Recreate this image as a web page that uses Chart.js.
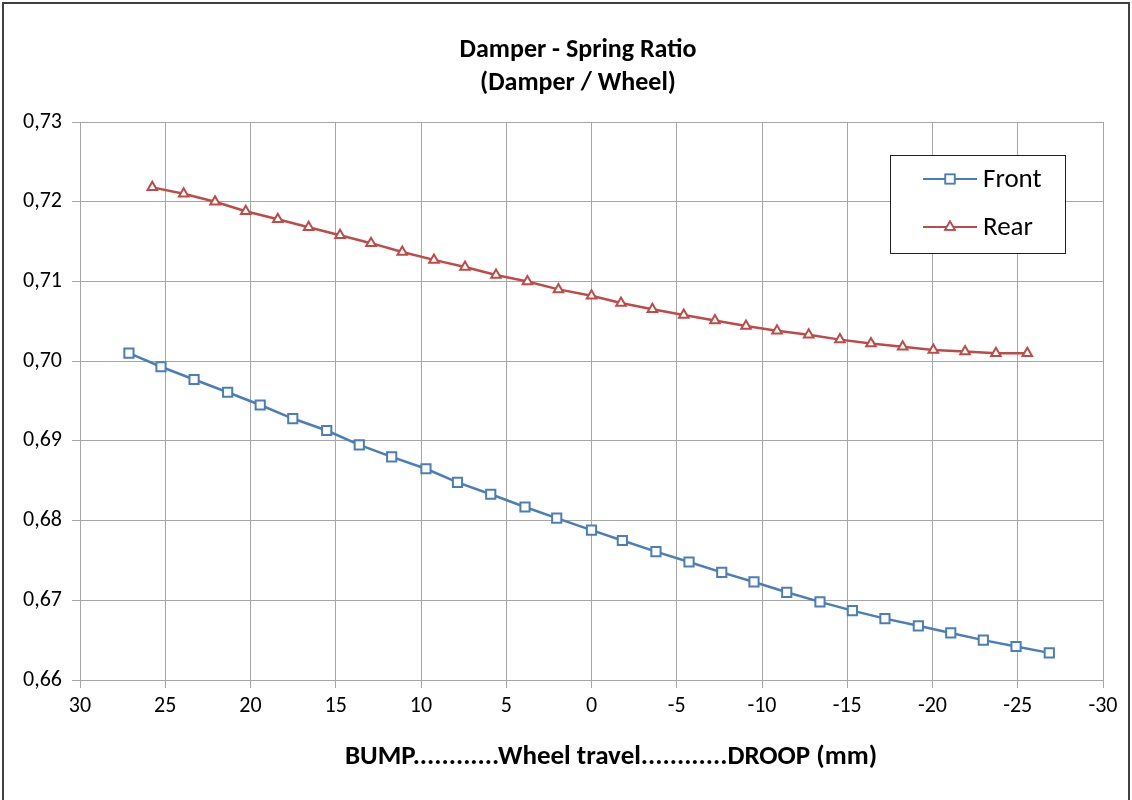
<!DOCTYPE html>
<html>
<head>
<meta charset="utf-8">
<script src="https://cdn.jsdelivr.net/npm/chart.js@4/dist/chart.umd.min.js"></script>
<style>
  html, body { margin: 0; padding: 0; background: #fff; }
  #wrap { position: relative; width: 1132px; height: 800px; }
</style>
</head>
<body>
<div id="wrap"><canvas id="c" width="1132" height="800"></canvas></div>
<script>
const chartTitle = ['Damper - Spring Ratio', '(Damper / Wheel)'];
const xAxisTitle = 'BUMP............Wheel travel............DROOP (mm)';
const seriesNames = ['Front', 'Rear'];

const frontTravel = [27.13, 25.25, 23.31, 21.34, 19.43, 17.52, 15.53, 13.62, 11.72, 9.71,
  7.86, 5.91, 3.90, 2.04, 0.0, -1.81, -3.78, -5.72, -7.64, -9.53,
  -11.45, -13.40, -15.30, -17.21, -19.17, -21.07, -22.98, -24.90, -26.85];
const frontRatio = [0.7010, 0.6993, 0.6977, 0.6961, 0.6945, 0.6928, 0.6913, 0.6895, 0.6880, 0.6865,
  0.6848, 0.6833, 0.6817, 0.6803, 0.6788, 0.6775, 0.6761, 0.6748, 0.6735, 0.6723,
  0.6710, 0.6698, 0.6687, 0.6677, 0.6668, 0.6659, 0.6650, 0.6642, 0.6634];

const rearTravel = [25.76, 23.92, 22.08, 20.28, 18.40, 16.59, 14.75, 12.93, 11.10, 9.24,
  7.42, 5.60, 3.76, 1.94, 0.0, -1.73, -3.57, -5.41, -7.24, -9.06,
  -10.88, -12.74, -14.57, -16.39, -18.25, -20.05, -21.91, -23.72, -25.56];
const rearRatio = [0.7218, 0.7210, 0.7200, 0.7188, 0.7178, 0.7168, 0.7158, 0.7148, 0.7137, 0.7127,
  0.7118, 0.7108, 0.7100, 0.7090, 0.7082, 0.7073, 0.7065, 0.7058, 0.7051, 0.7044,
  0.7038, 0.7033, 0.7027, 0.7022, 0.7018, 0.7014, 0.7012, 0.7010, 0.7010];

const xMin = -30, xMax = 30, xStep = 5;
const yMin = 0.66, yMax = 0.73, yStep = 0.01;

const FONT = "Carlito, 'Liberation Sans Narrow', 'Open Sans', 'Liberation Sans', sans-serif";
const BLUE = '#4a7ebb';
const RED = '#be4b48';
const GRID = '#a6a6a6';

function toPoints(xs, ys) { return xs.map((x, i) => ({ x: x, y: ys[i] })); }

const decorPlugin = {
  id: 'decor',
  beforeDraw(chart) {
    const ctx = chart.ctx;
    ctx.save();
    ctx.fillStyle = '#fff';
    ctx.fillRect(0, 0, chart.width, chart.height);
    ctx.restore();
  },
  afterDraw(chart) {
    const ctx = chart.ctx;
    ctx.save();
    // outer frame
    ctx.strokeStyle = '#404040';
    ctx.lineWidth = 2;
    ctx.strokeRect(3, 3, 1126, 820);
    // title
    ctx.fillStyle = '#000';
    ctx.textAlign = 'center';
    ctx.textBaseline = 'middle';
    ctx.font = 'bold 26px ' + FONT;
    ctx.fillText(chartTitle[0], 578, 50);
    ctx.fillText(chartTitle[1], 578, 83);
    // x axis title
    ctx.font = 'bold 27px ' + FONT;
    ctx.fillText(xAxisTitle, 611, 757);
    // legend
    const lx = 890, ly = 155, lw = 175, lh = 98;
    ctx.fillStyle = '#fff';
    ctx.fillRect(lx, ly, lw, lh);
    ctx.strokeStyle = '#202020';
    ctx.lineWidth = 1;
    ctx.strokeRect(lx + 0.5, ly + 0.5, lw, lh);
    const rows = [179, 227];
    chart.data.datasets.forEach((ds, i) => {
      const y = rows[i];
      ctx.strokeStyle = ds.borderColor;
      ctx.lineWidth = 2;
      ctx.beginPath();
      ctx.moveTo(923, y);
      ctx.lineTo(977, y);
      ctx.stroke();
      Chart.helpers.drawPoint(ctx, {
        pointStyle: ds.pointStyle, radius: ds.pointRadius, borderWidth: 1.5, rotation: 0
      }, 950, y);
      ctx.fillStyle = '#fff';
      ctx.fill();
      ctx.strokeStyle = ds.borderColor;
      ctx.lineWidth = 1.5;
      ctx.stroke();
      ctx.fillStyle = '#000';
      ctx.textAlign = 'left';
      ctx.textBaseline = 'middle';
      ctx.font = '27px ' + FONT;
      ctx.fillText(ds.label, 983, y + 1);
    });
    ctx.restore();
  }
};

new Chart(document.getElementById('c'), {
  type: 'scatter',
  data: {
    datasets: [
      {
        label: seriesNames[0],
        data: toPoints(frontTravel, frontRatio),
        showLine: true,
        borderColor: BLUE,
        backgroundColor: '#fff',
        borderWidth: 2.5,
        pointStyle: 'rect',
        pointRadius: 6.5,
        pointBorderWidth: 2,
        pointBorderColor: BLUE,
        pointBackgroundColor: '#fff',
        tension: 0
      },
      {
        label: seriesNames[1],
        data: toPoints(rearTravel, rearRatio),
        showLine: true,
        borderColor: RED,
        backgroundColor: '#fff',
        borderWidth: 2.5,
        pointStyle: 'triangle',
        pointRadius: 5.5,
        pointBorderWidth: 2,
        pointBorderColor: RED,
        pointBackgroundColor: '#fff',
        tension: 0
      }
    ]
  },
  options: {
    responsive: false,
    animation: false,
    devicePixelRatio: 1,
    layout: { padding: { left: 0, right: 29, top: 122, bottom: 0 } },
    plugins: {
      legend: { display: false },
      title: { display: false },
      tooltip: { enabled: false }
    },
    scales: {
      x: {
        type: 'linear',
        reverse: true,
        min: xMin, max: xMax,
        ticks: {
          stepSize: xStep,
          color: '#000',
          font: { family: FONT, size: 22 },
          padding: 5,
          maxRotation: 0,
          callback: v => String(v)
        },
        grid: { color: GRID, lineWidth: 1, tickLength: 8, drawTicks: true },
        border: { color: GRID, width: 1 },
        afterFit: s => { s.height = 120; }
      },
      y: {
        type: 'linear',
        min: yMin, max: yMax,
        ticks: {
          stepSize: yStep,
          color: '#000',
          font: { family: FONT, size: 22 },
          padding: 10,
          callback: v => v.toFixed(2).replace('.', ',')
        },
        grid: { color: GRID, lineWidth: 1, tickLength: 8, drawTicks: true },
        border: { color: GRID, width: 1 },
        afterFit: s => { s.width = 80; }
      }
    }
  },
  plugins: [decorPlugin]
});
</script>
</body>
</html>
